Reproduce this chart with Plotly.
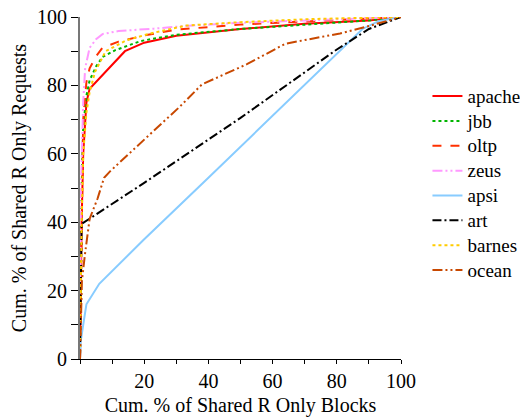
import plotly.graph_objects as go

names = ["apache", "jbb", "oltp", "zeus", "apsi", "art", "barnes", "ocean"]

apache_x = [0, 0.5, 1, 2, 3, 6, 10, 14, 20, 30, 50, 70, 90, 100]
apache_y = [0, 40, 60, 75, 79, 82, 86, 90, 92.5, 94.5, 96.5, 98, 99, 100]

jbb_x = [0, 0.5, 1, 2, 3, 5, 7, 11, 19, 30, 50, 70, 90, 100]
jbb_y = [0, 50, 68, 77, 81.5, 85.5, 88.3, 90.3, 93, 94.8, 96.5, 97.8, 99, 100]

oltp_x = [0, 0.5, 1, 2, 3, 5, 7, 12, 20, 30, 50, 70, 90, 100]
oltp_y = [0, 45, 70, 81, 85, 88.5, 91, 92.8, 94.6, 96.3, 97.8, 98.7, 99.5, 100]

zeus_x = [0, 0.3, 1, 1.6, 3, 5, 7, 12, 23, 33, 50, 70, 90, 100]
zeus_y = [0, 50, 75, 85, 91, 93.5, 95, 95.9, 96.6, 97.4, 98.3, 99, 99.6, 100]

apsi_x = [0, 0.2, 1, 2, 6, 20, 40, 60, 80, 88, 93, 100]
apsi_y = [0, 5, 10, 16, 22, 35, 53, 71, 89, 96.5, 98.8, 100]

art_x = [0, 0.5, 20, 50, 80, 90, 100]
art_y = [0, 39.5, 51.5, 70.5, 90.5, 96.5, 100]

barnes_x = [0, 0.5, 1, 2, 3, 4.7, 8, 14.5, 22, 33, 50, 72, 100]
barnes_y = [0, 40, 60, 72, 78, 84, 90, 93.2, 95.2, 97.5, 98.5, 99.4, 100]

ocean_x = [0, 0.3, 0.6, 1.6, 3, 5.5, 7.5, 9.5, 20, 31, 38, 52, 64, 81, 89, 100]
ocean_y = [0, 15, 23, 31, 41, 47, 53, 55, 64, 73.7, 80.3, 86.2, 92.2, 95.2, 97.1, 100]

tick_vals = [0, 10, 20, 30, 40, 50, 60, 70, 80, 90, 100]
x_tick_text = ["", "", "20", "", "40", "", "60", "", "80", "", "100"]
y_tick_text = ["0", "", "20", "", "40", "", "60", "", "80", "", "100"]

series = [
    (apache_x, apache_y, "#ff0000", "solid"),
    (jbb_x, jbb_y, "#00b400", "dot"),
    (oltp_x, oltp_y, "#ff3000", "dash"),
    (zeus_x, zeus_y, "#ff99ff", "10px,3px,2px,3px,2px,3px"),
    (apsi_x, apsi_y, "#88ccff", "solid"),
    (art_x, art_y, "#000000", "9px,3px,2px,3px"),
    (barnes_x, barnes_y, "#ffcc00", "dot"),
    (ocean_x, ocean_y, "#c84800", "10px,3px,2px,3px,2px,3px"),
]

fig = go.Figure()
for name, (xs, ys, col, dash) in zip(names, series):
    fig.add_trace(go.Scatter(
        x=xs, y=ys, mode="lines",
        name="<span style='font-size:19px'>" + name + "</span>",
        line=dict(color=col, width=2, dash=dash)))

FAM = "Liberation Serif"

# page body has an 8px margin, so the figure is placed 8px right/down
fig.update_layout(
    template="none",
    width=528, height=409,
    margin=dict(l=72, r=134.5, t=8.7, b=57.7, autoexpand=False),
    paper_bgcolor="white", plot_bgcolor="white",
    font=dict(family=FAM, size=20, color="black"),
    showlegend=True,
    legend=dict(x=1.0824, xanchor="left", y=0.8196, yanchor="top",
                font=dict(family=FAM, size=16.8, color="black"),
                bgcolor="rgba(0,0,0,0)", tracegroupgap=0),
    xaxis=dict(range=[0, 100], tickvals=tick_vals, ticktext=x_tick_text,
               ticks="outside", ticklen=4, tickcolor="black",
               showline=True, linecolor="black", linewidth=1,
               showgrid=False, zeroline=False, automargin=False,
               tickfont=dict(family=FAM, size=20, color="black"),
               title=dict(text="Cum. % of Shared R Only Blocks",
                          font=dict(family=FAM, size=20, color="black"))),
    yaxis=dict(range=[0, 100], tickvals=tick_vals, ticktext=y_tick_text,
               ticks="outside", ticklen=7, tickcolor="black",
               showline=True, linecolor="#777", linewidth=2,
               showgrid=False, zeroline=False, automargin=False,
               ticklabeloverflow="allow",
               tickfont=dict(family=FAM, size=20, color="black"),
               title=dict(text="Cum. % of Shared R Only Requests", standoff=9,
                          font=dict(family=FAM, size=20, color="black"))),
)

fig.write_html("out.html")
